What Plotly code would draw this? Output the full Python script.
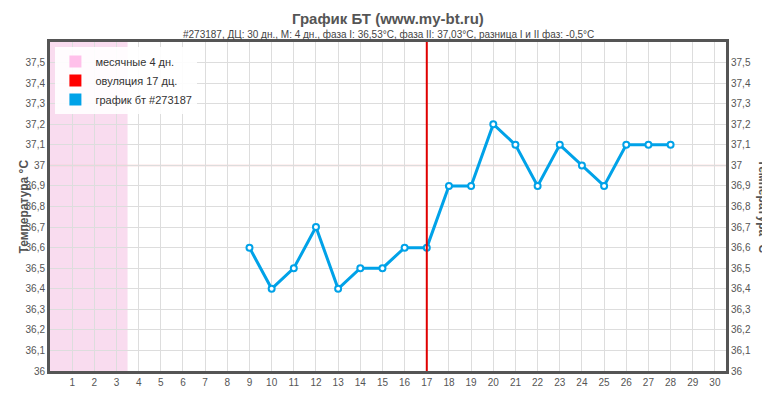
import plotly.graph_objects as go

days = list(range(9, 29))
temps = [36.6, 36.4, 36.5, 36.7, 36.4, 36.5, 36.5, 36.6, 36.6, 36.9, 36.9, 37.2, 37.1, 36.9, 37.1, 37.0, 36.9, 37.1, 37.1, 37.1]
x_ticks = list(range(1, 31))
y_ticks = [round(36 + i * 0.1, 1) for i in range(16)]
y_labels = [("%g" % v).replace(".", ",") for v in y_ticks]
menses_end = 3.5
ovulation_day = 17
ref_temp = 37.0

fig = go.Figure()
fig.add_trace(go.Scatter(x=[None], y=[None], mode="markers", name="месячные 4 дн.",
                         marker=dict(symbol="square", size=12, color="#ffc0ea")))
fig.add_trace(go.Scatter(x=[None], y=[None], mode="markers", name="овуляция 17 дц.",
                         marker=dict(symbol="square", size=12, color="#ff0000")))
fig.add_trace(go.Scatter(x=[None], y=[None], mode="markers", name="график бт #273187",
                         marker=dict(symbol="square", size=12, color="#00a2e8")))
fig.add_trace(go.Scatter(x=days, y=temps, mode="lines+markers", showlegend=False,
                         line=dict(color="#00a2e8", width=3),
                         marker=dict(size=6, color="white", line=dict(color="#00a2e8", width=2))))
fig.add_trace(go.Scatter(x=days, y=temps, yaxis="y2", mode="lines", showlegend=False,
                         line=dict(width=0), hoverinfo="skip"))

fig.add_shape(type="rect", xref="x", yref="paper", x0=0, x1=menses_end, y0=0, y1=1,
              fillcolor="#f9dcef", line_width=0, layer="below")
fig.add_shape(type="line", xref="x", yref="paper", x0=ovulation_day, x1=ovulation_day, y0=0, y1=1,
              line=dict(color="#e00000", width=2))
fig.add_shape(type="line", xref="paper", yref="y", x0=0, x1=1, y0=ref_temp, y1=ref_temp,
              line=dict(color="#f8c8c8", width=1.5), layer="below")

axis_common = dict(range=[36, 37.6], tickvals=y_ticks, ticktext=y_labels, showgrid=True,
                   gridcolor="#dddddd", zeroline=False, automargin=False,
                   tickfont=dict(size=10, color="#555", family="Arial"))
fig.update_layout(
    width=770, height=400, margin=dict(l=42, r=52, t=34, b=37),
    plot_bgcolor="white", paper_bgcolor="white",
    xaxis=dict(range=[0, 30.5], tickvals=x_ticks, showgrid=True, gridcolor="#dddddd", zeroline=False,
               automargin=False, tickfont=dict(size=10, color="#555", family="Arial"),
               showline=True, mirror=True, linecolor="#555", linewidth=3),
    yaxis=dict(**axis_common, showline=True, linecolor="#555", linewidth=3),
    yaxis2=dict(**axis_common, overlaying="y", side="right", showline=True, linecolor="#555", linewidth=3),
    legend=dict(x=0.008, y=0.985, xanchor="left", yanchor="top", bgcolor="rgba(255,255,255,0.9)",
                font=dict(size=11, color="#333", family="Arial"), itemsizing="constant"),
)
font_t = dict(family="Arial", color="#555")
fig.add_annotation(text="<b>График БТ (www.my-bt.ru)</b>", xref="paper", yref="paper", x=0.5, y=1,
                   yshift=34, yanchor="top", showarrow=False, font=dict(size=15, **font_t))
fig.add_annotation(text="#273187, ДЦ: 30 дн., М: 4 дн., фаза I: 36,53°C, фаза II: 37,03°C, разница I и II фаз: -0,5°C",
                   xref="paper", yref="paper", x=0.5, y=1, yshift=15, yanchor="top", showarrow=False,
                   font=dict(size=10, family="Arial", color="#444"))
fig.add_annotation(text="<b>Температура °C</b>", xref="paper", yref="paper", x=0, xshift=-36, y=0.5,
                   textangle=-90, showarrow=False, font=dict(size=12, **font_t))
fig.add_annotation(text="<b>Температура °C</b>", xref="paper", yref="paper", x=1, xshift=46, y=0.5,
                   textangle=90, showarrow=False, font=dict(size=12, **font_t))
fig.add_annotation(text="wonn@mail.ru (22.10.2013 - 21.11.2013)", xref="paper", yref="paper", x=0.5, y=0,
                   yshift=-25, yanchor="top", showarrow=False, font=dict(size=12, family="Arial", color="#333"))
fig.write_html("out.html")
